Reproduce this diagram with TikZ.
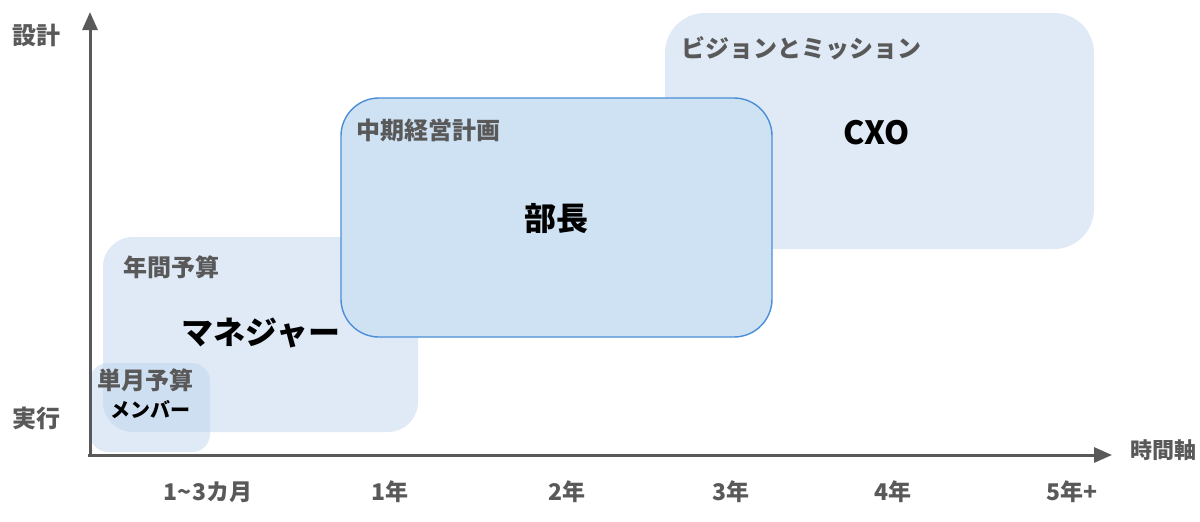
\documentclass[tikz,border=0pt]{standalone}
\usepackage{fontspec}
\setmainfont{Noto Sans CJK JP}
\usetikzlibrary{arrows.meta}
\definecolor{axisgray}{HTML}{595959}
\definecolor{lightbox}{HTML}{DFEAF6}
\definecolor{midbox}{HTML}{CFE2F3}
\definecolor{midborder}{HTML}{4A8ED6}
\definecolor{transbox}{HTML}{BFD5EE}
\tikzset{
  box/.style={inner sep=0pt, draw=none},
  cat/.style={anchor=west, inner sep=0pt, text=axisgray, font=\bfseries\fontsize{12pt}{14pt}\selectfont},
  role/.style={inner sep=0pt, text=black, font=\bfseries\fontsize{16pt}{19pt}\selectfont},
  axlabel/.style={inner sep=0pt, text=axisgray, font=\bfseries\fontsize{12pt}{14pt}\selectfont},
  tick/.style={inner sep=0pt, text=axisgray, font=\bfseries\fontsize{11.5pt}{13pt}\selectfont},
  axis/.style={draw=axisgray, line width=1.5pt, -{Triangle[length=9pt,width=7.5pt]}}
}
\begin{document}
\begin{tikzpicture}[x=0.5pt,y=-0.5pt]
\useasboundingbox (0,0) rectangle (1200,521);
% vision box
\node[box, fill=lightbox, rounded corners=20pt, minimum width=214.5pt, minimum height=118pt] (vision) at (879.5,131) {};
% annual box
\node[box, fill=transbox, fill opacity=0.5, rounded corners=15pt, minimum width=157.5pt, minimum height=97.5pt] (annual) at (260.5,334.5) {};
% month box
\node[box, fill=transbox, fill opacity=0.5, rounded corners=9pt, minimum width=60pt, minimum height=44.5pt] (month) at (150,407.5) {};
% mid box
\node[box, fill=midbox, draw=midborder, line width=0.7pt, rounded corners=19pt, minimum width=215.5pt, minimum height=119.5pt] (mid) at (556.5,217.5) {};
% axes
\coordinate (origin) at (90,455);
\coordinate (ytop) at (90,12);
\coordinate (xend) at (1112,455);
\draw[axis] (origin) -- (ytop);
\draw[axis] ([xshift=-1pt]origin) -- (xend);
% category labels
\node[cat] (tvision) at (681,48) {ビジョンとミッション};
\node[cat] (tmid) at (356,130) {中期経営計画};
\node[cat] (tannual) at (123,267) {年間予算};
\node[cat] (tmonth) at (97,380) {単月予算};
% roles
\node[role] (cxo) at (877,133) {CXO};
\node[role] (bucho) at (556,218) {部長};
\node[role] (mgr) at (261,333) {マネジャー};
\node[inner sep=0pt, font=\bfseries\fontsize{10pt}{12pt}\selectfont] (member) at (150,410) {メンバー};
% axis labels
\node[axlabel] (design) at (36,35) {設計};
\node[axlabel] (exec) at (36,418) {実行};
\node[axlabel, font=\bfseries\fontsize{11pt}{13pt}\selectfont] (time) at (1163,450) {時間軸};
% ticks
\node[tick] (t0) at (208,492) {1\textasciitilde 3カ月};
\node[tick] (t1) at (390,492) {1年};
\node[tick] (t2) at (567,492) {2年};
\node[tick] (t3) at (731,492) {3年};
\node[tick] (t4) at (893,492) {4年};
\node[tick] (t5) at (1072,492) {5年+};
\end{tikzpicture}
\end{document}
